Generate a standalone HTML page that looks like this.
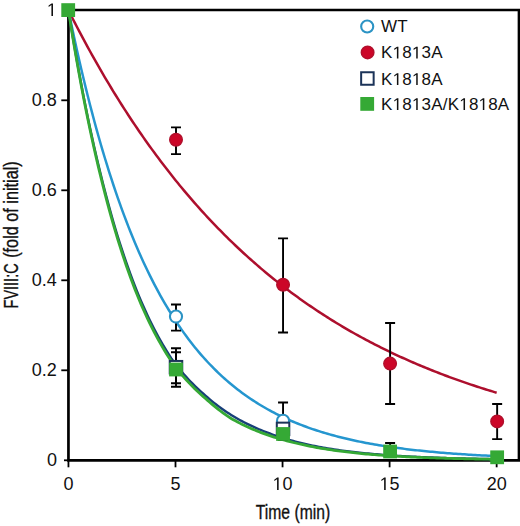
<!DOCTYPE html>
<html><head><meta charset="utf-8"><style>
html,body{margin:0;padding:0;background:#fff;}
body{width:520px;height:526px;overflow:hidden;}
svg{display:block;}
text{font-family:"Liberation Sans",sans-serif;fill:#111;}
.tk{font-size:18px;}
.lg{font-size:17px;letter-spacing:0.2px;}
.ttl{font-size:20px;stroke:#111;stroke-width:0.35px;}
.yt{font-size:20.5px;}
</style></head><body>
<svg width="520" height="526" viewBox="0 0 520 526">
<path d="M68.45,8.8 V460.3 H520" fill="none" stroke="#000" stroke-width="2.7"/>
<path d="M68.45,10 H519 V460.3" fill="none" stroke="#000" stroke-width="2.7"/>
<line x1="61.3" y1="370.30" x2="68.45" y2="370.30" stroke="#000" stroke-width="1.8"/>
<line x1="61.3" y1="280.30" x2="68.45" y2="280.30" stroke="#000" stroke-width="1.8"/>
<line x1="61.3" y1="190.30" x2="68.45" y2="190.30" stroke="#000" stroke-width="1.8"/>
<line x1="61.3" y1="100.30" x2="68.45" y2="100.30" stroke="#000" stroke-width="1.8"/>
<line x1="64" y1="460.3" x2="68.45" y2="460.3" stroke="#000" stroke-width="1.8"/>
<line x1="68.45" y1="460.3" x2="68.45" y2="467.3" stroke="#000" stroke-width="1.8"/>
<line x1="175.50" y1="460.3" x2="175.50" y2="467.3" stroke="#000" stroke-width="1.8"/>
<line x1="282.55" y1="460.3" x2="282.55" y2="467.3" stroke="#000" stroke-width="1.8"/>
<line x1="389.60" y1="460.3" x2="389.60" y2="467.3" stroke="#000" stroke-width="1.8"/>
<line x1="496.65" y1="460.3" x2="496.65" y2="467.3" stroke="#000" stroke-width="1.8"/>
<text x="56.9" y="15.90" text-anchor="end" class="tk"> </text><path d="M515,0 L515,1237 L197,1010 L197,1180 L530,1409 L696,1409 L696,0 Z" transform="translate(46.884,15.900) scale(0.008789,-0.008789)" fill="#111"/>
<text x="56.9" y="105.90" text-anchor="end" class="tk">0.8</text>
<text x="56.9" y="195.90" text-anchor="end" class="tk">0.6</text>
<text x="56.9" y="285.90" text-anchor="end" class="tk">0.4</text>
<text x="56.9" y="375.90" text-anchor="end" class="tk">0.2</text>
<text x="56.9" y="465.90" text-anchor="end" class="tk">0</text>
<text x="68.45" y="490" text-anchor="middle" class="tk">0</text>
<text x="175.50" y="490" text-anchor="middle" class="tk">5</text>
<text x="282.55" y="490" text-anchor="middle" class="tk"> 0</text><path d="M515,0 L515,1237 L197,1010 L197,1180 L530,1409 L696,1409 L696,0 Z" transform="translate(272.534,490.000) scale(0.008789,-0.008789)" fill="#111"/>
<text x="389.60" y="490" text-anchor="middle" class="tk"> 5</text><path d="M515,0 L515,1237 L197,1010 L197,1180 L530,1409 L696,1409 L696,0 Z" transform="translate(379.584,490.000) scale(0.008789,-0.008789)" fill="#111"/>
<text x="496.65" y="490" text-anchor="middle" class="tk">20</text>
<path d="M68.45,10.30 L70.59,14.55 L72.73,18.75 L74.87,22.92 L77.01,27.04 L79.16,31.13 L81.30,35.18 L83.44,39.19 L85.58,43.17 L87.72,47.10 L89.86,51.00 L92.00,54.86 L94.14,58.69 L96.28,62.48 L98.42,66.23 L100.56,69.95 L102.71,73.63 L104.85,77.28 L106.99,80.89 L109.13,84.47 L111.27,88.02 L113.41,91.53 L115.55,95.01 L117.69,98.46 L119.83,101.87 L121.97,105.25 L124.12,108.60 L126.26,111.92 L128.40,115.21 L130.54,118.47 L132.68,121.69 L134.82,124.89 L136.96,128.05 L139.10,131.18 L141.24,134.29 L143.38,137.37 L145.53,140.41 L147.67,143.43 L149.81,146.42 L151.95,149.38 L154.09,152.32 L156.23,155.22 L158.37,158.10 L160.51,160.95 L162.65,163.78 L164.80,166.57 L166.94,169.35 L169.08,172.09 L171.22,174.81 L173.36,177.50 L175.50,180.17 L177.64,182.81 L179.78,185.43 L181.92,188.03 L184.06,190.60 L186.20,193.14 L188.35,195.66 L190.49,198.16 L192.63,200.63 L194.77,203.08 L196.91,205.51 L199.05,207.91 L201.19,210.29 L203.33,212.65 L205.47,214.99 L207.62,217.30 L209.76,219.60 L211.90,221.87 L214.04,224.12 L216.18,226.35 L218.32,228.55 L220.46,230.74 L222.60,232.91 L224.74,235.05 L226.88,237.18 L229.02,239.28 L231.17,241.37 L233.31,243.43 L235.45,245.48 L237.59,247.51 L239.73,249.51 L241.87,251.50 L244.01,253.47 L246.15,255.42 L248.29,257.36 L250.44,259.27 L252.58,261.17 L254.72,263.05 L256.86,264.91 L259.00,266.75 L261.14,268.58 L263.28,270.39 L265.42,272.18 L267.56,273.95 L269.70,275.71 L271.85,277.45 L273.99,279.18 L276.13,280.89 L278.27,282.58 L280.41,284.26 L282.55,285.92 L284.69,287.56 L286.83,289.19 L288.97,290.81 L291.11,292.41 L293.25,293.99 L295.40,295.56 L297.54,297.11 L299.68,298.65 L301.82,300.18 L303.96,301.69 L306.10,303.19 L308.24,304.67 L310.38,306.14 L312.52,307.59 L314.67,309.03 L316.81,310.46 L318.95,311.87 L321.09,313.27 L323.23,314.66 L325.37,316.04 L327.51,317.40 L329.65,318.75 L331.79,320.08 L333.93,321.40 L336.07,322.71 L338.22,324.01 L340.36,325.30 L342.50,326.57 L344.64,327.83 L346.78,329.08 L348.92,330.32 L351.06,331.55 L353.20,332.76 L355.34,333.97 L357.49,335.16 L359.63,336.34 L361.77,337.51 L363.91,338.67 L366.05,339.81 L368.19,340.95 L370.33,342.08 L372.47,343.19 L374.61,344.30 L376.75,345.39 L378.89,346.48 L381.04,347.55 L383.18,348.61 L385.32,349.67 L387.46,350.71 L389.60,351.75 L391.74,352.77 L393.88,353.78 L396.02,354.79 L398.16,355.79 L400.31,356.77 L402.45,357.75 L404.59,358.72 L406.73,359.67 L408.87,360.62 L411.01,361.56 L413.15,362.50 L415.29,363.42 L417.43,364.33 L419.57,365.24 L421.71,366.14 L423.86,367.02 L426.00,367.90 L428.14,368.78 L430.28,369.64 L432.42,370.49 L434.56,371.34 L436.70,372.18 L438.84,373.01 L440.98,373.84 L443.12,374.65 L445.27,375.46 L447.41,376.26 L449.55,377.05 L451.69,377.84 L453.83,378.62 L455.97,379.39 L458.11,380.15 L460.25,380.91 L462.39,381.66 L464.53,382.40 L466.68,383.13 L468.82,383.86 L470.96,384.58 L473.10,385.30 L475.24,386.00 L477.38,386.71 L479.52,387.40 L481.66,388.09 L483.80,388.77 L485.94,389.44 L488.09,390.11 L490.23,390.77 L492.37,391.43 L494.51,392.08 L496.65,392.72" fill="none" stroke="#ad0f2d" stroke-width="2.5"/>
<path d="M68.45,10.30 L70.59,20.71 L72.73,30.87 L74.87,40.81 L77.01,50.51 L79.16,59.99 L81.30,69.25 L83.44,78.29 L85.58,87.12 L87.72,95.76 L89.86,104.19 L92.00,112.42 L94.14,120.47 L96.28,128.33 L98.42,136.01 L100.56,143.51 L102.71,150.83 L104.85,157.99 L106.99,164.98 L109.13,171.81 L111.27,178.49 L113.41,185.00 L115.55,191.37 L117.69,197.59 L119.83,203.67 L121.97,209.60 L124.12,215.40 L126.26,221.06 L128.40,226.60 L130.54,232.00 L132.68,237.28 L134.82,242.44 L136.96,247.48 L139.10,252.40 L141.24,257.21 L143.38,261.91 L145.53,266.50 L147.67,270.98 L149.81,275.36 L151.95,279.63 L154.09,283.81 L156.23,287.89 L158.37,291.88 L160.51,295.78 L162.65,299.58 L164.80,303.30 L166.94,306.93 L169.08,310.48 L171.22,313.94 L173.36,317.33 L175.50,320.63 L177.64,323.87 L179.78,327.02 L181.92,330.10 L184.06,333.11 L186.20,336.06 L188.35,338.93 L190.49,341.74 L192.63,344.48 L194.77,347.16 L196.91,349.77 L199.05,352.33 L201.19,354.83 L203.33,357.27 L205.47,359.65 L207.62,361.98 L209.76,364.25 L211.90,366.47 L214.04,368.64 L216.18,370.76 L218.32,372.83 L220.46,374.86 L222.60,376.83 L224.74,378.76 L226.88,380.65 L229.02,382.49 L231.17,384.29 L233.31,386.05 L235.45,387.77 L237.59,389.44 L239.73,391.08 L241.87,392.68 L244.01,394.25 L246.15,395.78 L248.29,397.27 L250.44,398.73 L252.58,400.15 L254.72,401.54 L256.86,402.90 L259.00,404.23 L261.14,405.52 L263.28,406.79 L265.42,408.03 L267.56,409.24 L269.70,410.42 L271.85,411.57 L273.99,412.70 L276.13,413.80 L278.27,414.88 L280.41,415.93 L282.55,416.95 L284.69,417.96 L286.83,418.93 L288.97,419.89 L291.11,420.83 L293.25,421.74 L295.40,422.63 L297.54,423.50 L299.68,424.35 L301.82,425.18 L303.96,426.00 L306.10,426.79 L308.24,427.56 L310.38,428.32 L312.52,429.06 L314.67,429.78 L316.81,430.49 L318.95,431.18 L321.09,431.85 L323.23,432.51 L325.37,433.15 L327.51,433.78 L329.65,434.39 L331.79,434.99 L333.93,435.58 L336.07,436.15 L338.22,436.71 L340.36,437.26 L342.50,437.79 L344.64,438.31 L346.78,438.82 L348.92,439.31 L351.06,439.80 L353.20,440.27 L355.34,440.74 L357.49,441.19 L359.63,441.63 L361.77,442.06 L363.91,442.48 L366.05,442.90 L368.19,443.30 L370.33,443.69 L372.47,444.08 L374.61,444.45 L376.75,444.82 L378.89,445.18 L381.04,445.53 L383.18,445.87 L385.32,446.20 L387.46,446.53 L389.60,446.85 L391.74,447.16 L393.88,447.46 L396.02,447.76 L398.16,448.05 L400.31,448.33 L402.45,448.61 L404.59,448.88 L406.73,449.14 L408.87,449.40 L411.01,449.65 L413.15,449.90 L415.29,450.14 L417.43,450.38 L419.57,450.60 L421.71,450.83 L423.86,451.05 L426.00,451.26 L428.14,451.47 L430.28,451.68 L432.42,451.87 L434.56,452.07 L436.70,452.26 L438.84,452.45 L440.98,452.63 L443.12,452.80 L445.27,452.98 L447.41,453.15 L449.55,453.31 L451.69,453.47 L453.83,453.63 L455.97,453.79 L458.11,453.94 L460.25,454.08 L462.39,454.23 L464.53,454.37 L466.68,454.51 L468.82,454.64 L470.96,454.77 L473.10,454.90 L475.24,455.02 L477.38,455.15 L479.52,455.26 L481.66,455.38 L483.80,455.50 L485.94,455.61 L488.09,455.71 L490.23,455.82 L492.37,455.92 L494.51,456.03 L496.65,456.12" fill="none" stroke="#2596cf" stroke-width="2.5"/>
<path d="M68.45,10.30 L70.59,23.60 L72.73,36.52 L74.87,49.06 L77.01,61.23 L79.16,73.05 L81.30,84.52 L83.44,95.66 L85.58,106.47 L87.72,116.96 L89.86,127.15 L92.00,137.05 L94.14,146.65 L96.28,155.97 L98.42,165.02 L100.56,173.80 L102.71,182.42 L104.85,190.79 L106.99,198.93 L109.13,206.83 L111.27,214.51 L113.41,221.97 L115.55,229.22 L117.69,236.26 L119.83,243.09 L121.97,249.73 L124.12,256.18 L126.26,262.44 L128.40,268.52 L130.54,274.43 L132.68,280.16 L134.82,285.72 L136.96,291.12 L139.10,296.37 L141.24,301.42 L143.38,306.32 L145.53,311.07 L147.67,315.68 L149.81,320.16 L151.95,324.50 L154.09,328.72 L156.23,332.80 L158.37,336.77 L160.51,340.62 L162.65,344.35 L164.80,347.97 L166.94,351.48 L169.08,354.89 L171.22,358.19 L173.36,361.12 L175.50,363.95 L177.64,366.69 L179.78,369.36 L181.92,371.93 L184.06,374.43 L186.20,376.86 L188.35,379.20 L190.49,381.48 L192.63,383.68 L194.77,385.82 L196.91,387.90 L199.05,389.91 L201.19,391.86 L203.33,393.75 L205.47,395.58 L207.62,397.48 L209.76,399.32 L211.90,401.11 L214.04,402.84 L216.18,404.52 L218.32,406.15 L220.46,407.73 L222.60,409.27 L224.74,410.76 L226.88,412.20 L229.02,413.61 L231.17,414.97 L233.31,416.28 L235.45,417.55 L237.59,418.78 L239.73,419.97 L241.87,421.13 L244.01,422.26 L246.15,423.35 L248.29,424.41 L250.44,425.44 L252.58,426.44 L254.72,427.41 L256.86,428.35 L259.00,429.27 L261.14,430.15 L263.28,431.01 L265.42,431.85 L267.56,432.66 L269.70,433.48 L271.85,434.27 L273.99,435.04 L276.13,435.79 L278.27,436.51 L280.41,437.21 L282.55,437.90 L284.69,438.56 L286.83,439.20 L288.97,439.82 L291.11,440.43 L293.25,441.02 L295.40,441.59 L297.54,442.14 L299.68,442.68 L301.82,443.20 L303.96,443.70 L306.10,444.19 L308.24,444.67 L310.38,445.13 L312.52,445.58 L314.67,446.01 L316.81,446.44 L318.95,446.85 L321.09,447.24 L323.23,447.63 L325.37,448.00 L327.51,448.37 L329.65,448.72 L331.79,449.06 L333.93,449.39 L336.07,449.72 L338.22,450.03 L340.36,450.33 L342.50,450.63 L344.64,450.91 L346.78,451.19 L348.92,451.46 L351.06,451.72 L353.20,451.98 L355.34,452.22 L357.49,452.46 L359.63,452.69 L361.77,452.92 L363.91,453.13 L366.05,453.35 L368.19,453.55 L370.33,453.75 L372.47,453.94 L374.61,454.13 L376.75,454.32 L378.89,454.49 L381.04,454.66 L383.18,454.83 L385.32,454.99 L387.46,455.15 L389.60,455.30 L391.74,455.45 L393.88,455.59 L396.02,455.73 L398.16,455.87 L400.31,456.00 L402.45,456.12 L404.59,456.25 L406.73,456.37 L408.87,456.48 L411.01,456.60 L413.15,456.71 L415.29,456.81 L417.43,456.92 L419.57,457.02 L421.71,457.11 L423.86,457.21 L426.00,457.30 L428.14,457.39 L430.28,457.47 L432.42,457.56 L434.56,457.64 L436.70,457.72 L438.84,457.79 L440.98,457.87 L443.12,457.94 L445.27,458.01 L447.41,458.08 L449.55,458.14 L451.69,458.21 L453.83,458.27 L455.97,458.33 L458.11,458.39 L460.25,458.44 L462.39,458.50 L464.53,458.55 L466.68,458.60 L468.82,458.65 L470.96,458.70 L473.10,458.75 L475.24,458.79 L477.38,458.84 L479.52,458.88 L481.66,458.92 L483.80,458.96 L485.94,459.00 L488.09,459.04 L490.23,459.08 L492.37,459.12 L494.51,459.15 L496.65,459.18" fill="none" stroke="#173f78" stroke-width="2.4"/>
<path d="M68.45,10.30 L70.59,23.82 L72.73,36.94 L74.87,49.67 L77.01,62.03 L79.16,74.01 L81.30,85.64 L83.44,96.93 L85.58,107.88 L87.72,118.51 L89.86,128.82 L92.00,138.82 L94.14,148.52 L96.28,157.94 L98.42,167.07 L100.56,175.94 L102.71,184.65 L104.85,193.12 L106.99,201.35 L109.13,209.33 L111.27,217.09 L113.41,224.63 L115.55,231.94 L117.69,239.05 L119.83,245.94 L121.97,252.64 L124.12,259.14 L126.26,265.45 L128.40,271.57 L130.54,277.51 L132.68,283.28 L134.82,288.88 L136.96,294.31 L139.10,299.58 L141.24,304.63 L143.38,309.52 L145.53,314.26 L147.67,318.86 L149.81,323.32 L151.95,327.64 L154.09,331.84 L156.23,335.90 L158.37,339.84 L160.51,343.67 L162.65,347.37 L164.80,350.96 L166.94,354.44 L169.08,357.82 L171.22,361.09 L173.36,364.02 L175.50,366.86 L177.64,369.60 L179.78,372.26 L181.92,374.84 L184.06,377.34 L186.20,379.76 L188.35,382.10 L190.49,384.37 L192.63,386.57 L194.77,388.70 L196.91,390.77 L199.05,392.77 L201.19,394.71 L203.33,396.59 L205.47,398.42 L207.62,400.39 L209.76,402.30 L211.90,404.15 L214.04,405.94 L216.18,407.68 L218.32,409.37 L220.46,411.00 L222.60,412.58 L224.74,414.12 L226.88,415.61 L229.02,417.05 L231.17,418.44 L233.31,419.67 L235.45,420.85 L237.59,422.00 L239.73,423.12 L241.87,424.20 L244.01,425.25 L246.15,426.26 L248.29,427.25 L250.44,428.20 L252.58,429.13 L254.72,430.03 L256.86,430.90 L259.00,431.75 L261.14,432.57 L263.28,433.36 L265.42,434.13 L267.56,434.88 L269.70,435.63 L271.85,436.35 L273.99,437.05 L276.13,437.73 L278.27,438.39 L280.41,439.03 L282.55,439.65 L284.69,440.26 L286.83,440.84 L288.97,441.41 L291.11,441.96 L293.25,442.49 L295.40,443.01 L297.54,443.51 L299.68,444.00 L301.82,444.47 L303.96,444.93 L306.10,445.40 L308.24,445.85 L310.38,446.28 L312.52,446.71 L314.67,447.12 L316.81,447.52 L318.95,447.90 L321.09,448.28 L323.23,448.64 L325.37,448.99 L327.51,449.34 L329.65,449.67 L331.79,449.99 L333.93,450.30 L336.07,450.60 L338.22,450.90 L340.36,451.18 L342.50,451.46 L344.64,451.72 L346.78,451.98 L348.92,452.23 L351.06,452.48 L353.20,452.72 L355.34,452.94 L357.49,453.17 L359.63,453.38 L361.77,453.59 L363.91,453.79 L366.05,453.99 L368.19,454.18 L370.33,454.37 L372.47,454.55 L374.61,454.72 L376.75,454.89 L378.89,455.05 L381.04,455.21 L383.18,455.37 L385.32,455.51 L387.46,455.66 L389.60,455.80 L391.74,455.94 L393.88,456.07 L396.02,456.20 L398.16,456.32 L400.31,456.44 L402.45,456.56 L404.59,456.67 L406.73,456.78 L408.87,456.89 L411.01,456.99 L413.15,457.09 L415.29,457.19 L417.43,457.28 L419.57,457.37 L421.71,457.46 L423.86,457.55 L426.00,457.63 L428.14,457.71 L430.28,457.79 L432.42,457.86 L434.56,457.94 L436.70,458.01 L438.84,458.08 L440.98,458.15 L443.12,458.21 L445.27,458.27 L447.41,458.34 L449.55,458.39 L451.69,458.45 L453.83,458.51 L455.97,458.56 L458.11,458.61 L460.25,458.67 L462.39,458.72 L464.53,458.76 L466.68,458.81 L468.82,458.85 L470.96,458.90 L473.10,458.94 L475.24,458.98 L477.38,459.02 L479.52,459.06 L481.66,459.10 L483.80,459.13 L485.94,459.17 L488.09,459.20 L490.23,459.24 L492.37,459.27 L494.51,459.30 L496.65,459.33" fill="none" stroke="#35a935" stroke-width="2.8"/>
<path d="M176.00,127.4 V154.1 M171.00,127.4 h10 M171.00,154.1 h10" fill="none" stroke="#000" stroke-width="1.9"/>
<path d="M283.05,238.4 V332.5 M278.05,238.4 h10 M278.05,332.5 h10" fill="none" stroke="#000" stroke-width="1.9"/>
<path d="M390.10,323 V404 M385.10,323 h10 M385.10,404 h10" fill="none" stroke="#000" stroke-width="1.9"/>
<path d="M497.15,404 V439.1 M492.15,404 h10 M492.15,439.1 h10" fill="none" stroke="#000" stroke-width="1.9"/>
<path d="M176.00,304.5 V330.6 M171.00,304.5 h10 M171.00,330.6 h10" fill="none" stroke="#000" stroke-width="1.9"/>
<path d="M283.05,402.5 V440 M278.05,402.5 h10 M278.05,440 h10" fill="none" stroke="#000" stroke-width="1.9"/>
<path d="M176.00,348.2 V386.7 M171.00,348.2 h10 M171.00,386.7 h10" fill="none" stroke="#000" stroke-width="1.9"/>
<path d="M176.00,352.3 V383.3 M171.00,352.3 h10 M171.00,383.3 h10" fill="none" stroke="#000" stroke-width="1.9"/>
<path d="M390.10,443 V455 M385.10,443 h10 M385.10,455 h10" fill="none" stroke="#000" stroke-width="1.9"/>
<circle cx="176.00" cy="316.60" r="6.05" fill="#fff" stroke="#2b93c4" stroke-width="2.1"/>
<circle cx="283.05" cy="420.80" r="6.05" fill="#fff" stroke="#2b93c4" stroke-width="2.1"/>
<circle cx="176.00" cy="139.80" r="6.3" fill="#cc0628" stroke="#b00f2b" stroke-width="1.4"/>
<circle cx="283.05" cy="284.80" r="6.3" fill="#cc0628" stroke="#b00f2b" stroke-width="1.4"/>
<circle cx="390.10" cy="363.60" r="6.3" fill="#cc0628" stroke="#b00f2b" stroke-width="1.4"/>
<circle cx="497.15" cy="421.40" r="6.3" fill="#cc0628" stroke="#b00f2b" stroke-width="1.4"/>
<rect x="169.75" y="360.95" width="12.5" height="12.5" fill="#fff" stroke="#1b3358" stroke-width="2"/>
<rect x="276.80" y="422.65" width="12.5" height="12.5" fill="#fff" stroke="#1b3358" stroke-width="2"/>
<rect x="61.30" y="3.20" width="13.8" height="13.8" fill="#35a935"/>
<rect x="169.10" y="362.60" width="13.8" height="13.8" fill="#35a935"/>
<rect x="276.15" y="427.10" width="13.8" height="13.8" fill="#35a935"/>
<rect x="383.20" y="444.60" width="13.8" height="13.8" fill="#35a935"/>
<rect x="490.25" y="450.40" width="13.8" height="13.8" fill="#35a935"/>
<circle cx="367.20" cy="26.50" r="6.05" fill="#fff" stroke="#2b93c4" stroke-width="2.1"/>
<circle cx="367.60" cy="52.40" r="6.3" fill="#cc0628" stroke="#b00f2b" stroke-width="1.4"/>
<rect x="361.15" y="72.25" width="12.5" height="12.5" fill="#fff" stroke="#1b3358" stroke-width="2"/>
<rect x="360.30" y="97.00" width="13.8" height="13.8" fill="#35a935"/>
<text x="381.1" y="32.40" class="lg">WT</text>
<text x="381.1" y="58.40" class="lg">K 8 3A</text><path d="M515,0 L515,1237 L197,1010 L197,1180 L530,1409 L696,1409 L696,0 Z" transform="translate(392.631,58.400) scale(0.008301,-0.008301)" fill="#111"/><path d="M515,0 L515,1237 L197,1010 L197,1180 L530,1409 L696,1409 L696,0 Z" transform="translate(411.944,58.400) scale(0.008301,-0.008301)" fill="#111"/>
<text x="381.1" y="85.00" class="lg">K 8 8A</text><path d="M515,0 L515,1237 L197,1010 L197,1180 L530,1409 L696,1409 L696,0 Z" transform="translate(392.631,85.000) scale(0.008301,-0.008301)" fill="#111"/><path d="M515,0 L515,1237 L197,1010 L197,1180 L530,1409 L696,1409 L696,0 Z" transform="translate(411.944,85.000) scale(0.008301,-0.008301)" fill="#111"/>
<text x="381.1" y="110.00" class="lg">K 8 3A/K 8 8A</text><path d="M515,0 L515,1237 L197,1010 L197,1180 L530,1409 L696,1409 L696,0 Z" transform="translate(392.631,110.000) scale(0.008301,-0.008301)" fill="#111"/><path d="M515,0 L515,1237 L197,1010 L197,1180 L530,1409 L696,1409 L696,0 Z" transform="translate(411.944,110.000) scale(0.008301,-0.008301)" fill="#111"/><path d="M515,0 L515,1237 L197,1010 L197,1180 L530,1409 L696,1409 L696,0 Z" transform="translate(459.256,110.000) scale(0.008301,-0.008301)" fill="#111"/><path d="M515,0 L515,1237 L197,1010 L197,1180 L530,1409 L696,1409 L696,0 Z" transform="translate(478.553,110.000) scale(0.008301,-0.008301)" fill="#111"/>
<text x="293" y="519.2" text-anchor="middle" class="ttl" transform="translate(293,0) scale(0.785,1) translate(-293,0)">Time (min)</text>
<g transform="translate(17.8,0) rotate(-90)"><text x="-308.4" y="0" class="ttl yt" textLength="45" lengthAdjust="spacingAndGlyphs">FVIII:C</text><text x="-257.8" y="0" class="ttl yt" textLength="96.5" lengthAdjust="spacingAndGlyphs">(fold of initial)</text></g>
</svg>
</body></html>
